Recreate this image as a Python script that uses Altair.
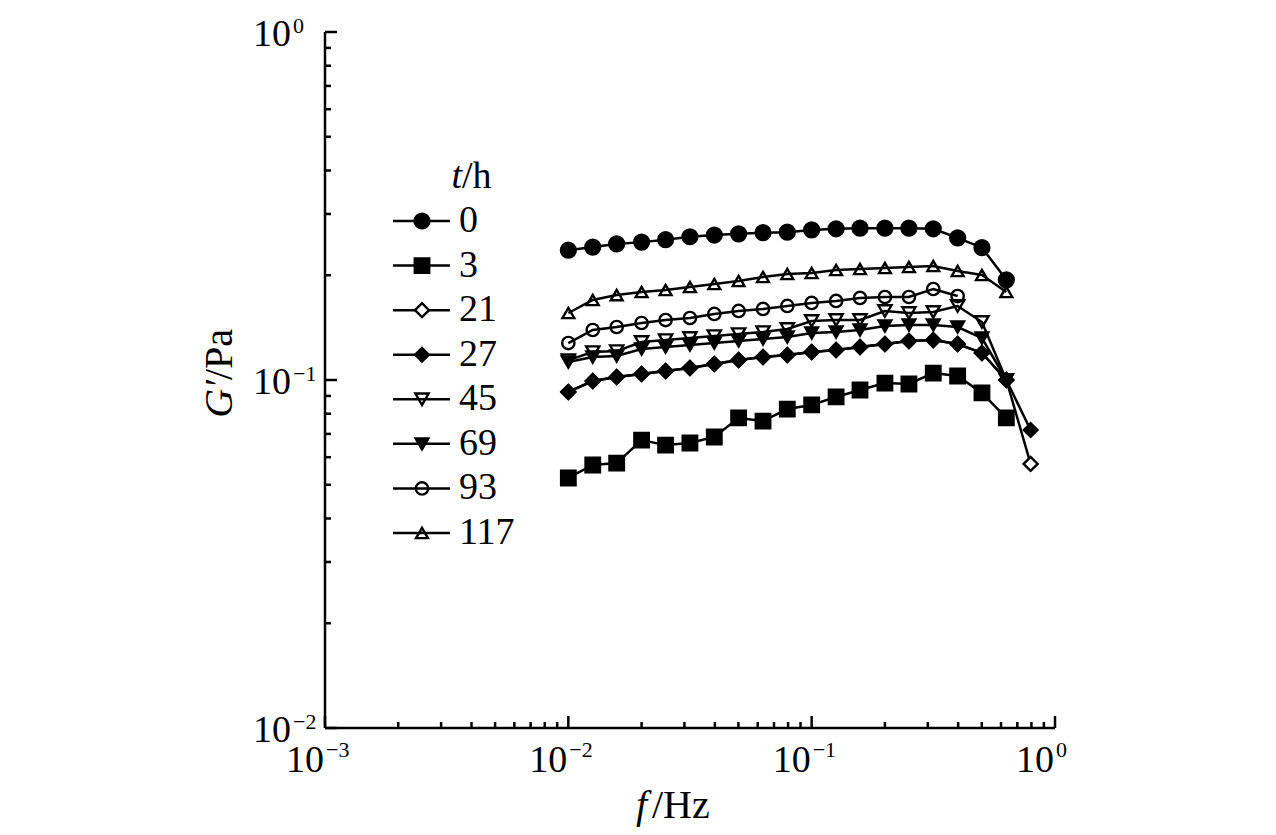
import altair as alt
import pandas as pd

# ---------------- data ----------------
FREQ = [0.01, 0.0126, 0.0158, 0.02, 0.0251, 0.0316, 0.0398, 0.0501, 0.0631, 0.0794,
        0.1, 0.126, 0.158, 0.2, 0.251, 0.316, 0.398, 0.501, 0.631, 0.794]

SERIES = ["0", "3", "21", "27", "45", "69", "93", "117"]

G_0 = [0.236, 0.241, 0.246, 0.249, 0.253, 0.258, 0.261, 0.263, 0.265, 0.266,
       0.270, 0.272, 0.273, 0.273, 0.273, 0.272, 0.256, 0.240, 0.194]
G_3 = [0.0523, 0.0570, 0.0577, 0.0672, 0.0650, 0.0659, 0.0686, 0.0778, 0.0762, 0.0825,
       0.0848, 0.0894, 0.0936, 0.0980, 0.0974, 0.1047, 0.1027, 0.0918, 0.0778]
G_21 = [0.0924, 0.0993, 0.1020, 0.1040, 0.1061, 0.1083, 0.1112, 0.1141, 0.1164, 0.1180,
        0.1203, 0.1219, 0.1244, 0.1269, 0.1295, 0.1302, 0.1269, 0.1196, 0.1000, 0.0574]
G_27 = [0.0924, 0.0993, 0.1020, 0.1040, 0.1061, 0.1083, 0.1112, 0.1141, 0.1164, 0.1180,
        0.1203, 0.1219, 0.1244, 0.1269, 0.1295, 0.1302, 0.1269, 0.1196, 0.1000, 0.0718]
G_45 = [0.1141, 0.1203, 0.1211, 0.1286, 0.1302, 0.1320, 0.1337, 0.1355, 0.1373, 0.1401,
        0.1478, 0.1487, 0.1487, 0.1579, 0.1558, 0.1569, 0.1632, 0.1468, 0.1000]
G_69 = [0.1126, 0.1164, 0.1172, 0.1228, 0.1244, 0.1260, 0.1277, 0.1295, 0.1312, 0.1329,
        0.1365, 0.1373, 0.1392, 0.1429, 0.1439, 0.1439, 0.1420, 0.1320, 0.1000]
G_93 = [0.1277, 0.1392, 0.1420, 0.1458, 0.1487, 0.1507, 0.1548, 0.1579, 0.1600, 0.1632,
        0.1665, 0.1687, 0.1721, 0.1732, 0.1732, 0.1826, 0.1743]
G_117 = [0.1558, 0.1698, 0.1754, 0.1790, 0.1814, 0.1850, 0.1887, 0.1925, 0.1977, 0.2016,
         0.2030, 0.2071, 0.2084, 0.2098, 0.2112, 0.2126, 0.2057, 0.2003, 0.1790]

VALUES = {"0": G_0, "3": G_3, "21": G_21, "27": G_27,
          "45": G_45, "69": G_69, "93": G_93, "117": G_117}

XTICK_MAJOR = [0.001, 0.01, 0.1, 1]
XTICK_MINOR = [0.002, 0.003, 0.004, 0.005, 0.006, 0.007, 0.008, 0.009,
               0.02, 0.03, 0.04, 0.05, 0.06, 0.07, 0.08, 0.09,
               0.2, 0.3, 0.4, 0.5, 0.6, 0.7, 0.8, 0.9]
YTICK_MAJOR = [0.01, 0.1, 1]
YTICK_MINOR = [0.02, 0.03, 0.04, 0.05, 0.06, 0.07, 0.08, 0.09,
               0.2, 0.3, 0.4, 0.5, 0.6, 0.7, 0.8, 0.9]
XLAB_VALUES = [0.001, 0.01, 0.1, 1]
XLAB_EXP = ["\u22123", "\u22122", "\u22121", "0"]
YLAB_VALUES = [0.01, 0.1, 1]
YLAB_EXP = ["\u22122", "\u22121", "0"]

# ---------------- styles ----------------
SHAPES = ["circle", "square", "diamond", "diamond",
          "triangle-down", "triangle-down", "circle", "triangle-up"]
FILLS = ["black", "black", "white", "black",
         "transparent", "black", "transparent", "transparent"]
SIZES = [220, 140, 80, 240, 220, 210, 165, 230]

W, H = 730, 696
FONT = "Liberation Serif"

rows = []
for s in SERIES:
    for f, g in zip(FREQ, VALUES[s]):
        rows.append({"series": s, "f": f, "G": g})
df = pd.DataFrame(rows)

xscale = alt.Scale(type="log", domain=[0.001, 1], nice=False)
yscale = alt.Scale(type="log", domain=[0.01, 1], nice=False)

shape_enc = alt.Shape("series:N", scale=alt.Scale(domain=SERIES, range=SHAPES), legend=None)
fill_enc = alt.Fill("series:N", scale=alt.Scale(domain=SERIES, range=FILLS), legend=None)
size_enc = alt.Size("series:N", scale=alt.Scale(domain=SERIES, range=SIZES), legend=None)

lines = alt.Chart(df).mark_line(color="black", strokeWidth=2.5).encode(
    x=alt.X("f:Q", scale=xscale, axis=None),
    y=alt.Y("G:Q", scale=yscale, axis=None),
    detail="series:N",
)

points = alt.Chart(df).mark_point(filled=True, stroke="black", strokeWidth=2.4,
                                  opacity=1, fillOpacity=1).encode(
    x=alt.X("f:Q", scale=xscale, axis=None),
    y=alt.Y("G:Q", scale=yscale, axis=None),
    shape=shape_enc, fill=fill_enc, size=size_enc,
)

# axis lines (left and bottom only)
x_axis_line = alt.Chart(pd.DataFrame({"a": [0]})).mark_rule(color="black", strokeWidth=2.5).encode(
    x=alt.value(0), x2=alt.value(W), y=alt.value(H))
y_axis_line = alt.Chart(pd.DataFrame({"a": [0]})).mark_rule(color="black", strokeWidth=2.5).encode(
    x=alt.value(0), y=alt.value(0), y2=alt.value(H))

xt_major = alt.Chart(pd.DataFrame({"v": XTICK_MAJOR})).mark_rule(color="black", strokeWidth=2.5).encode(
    x=alt.X("v:Q", scale=xscale, axis=None), y=alt.value(H), y2=alt.value(H - 12))
xt_minor = alt.Chart(pd.DataFrame({"v": XTICK_MINOR})).mark_rule(color="black", strokeWidth=2.5).encode(
    x=alt.X("v:Q", scale=xscale, axis=None), y=alt.value(H), y2=alt.value(H - 6))
yt_major = alt.Chart(pd.DataFrame({"v": YTICK_MAJOR})).mark_rule(color="black", strokeWidth=2.5).encode(
    y=alt.Y("v:Q", scale=yscale, axis=None), x=alt.value(0), x2=alt.value(12))
yt_minor = alt.Chart(pd.DataFrame({"v": YTICK_MINOR})).mark_rule(color="black", strokeWidth=2.5).encode(
    y=alt.Y("v:Q", scale=yscale, axis=None), x=alt.value(0), x2=alt.value(6))

xlab_df = pd.DataFrame({"v": XLAB_VALUES, "base": ["10"] * len(XLAB_VALUES), "exp": XLAB_EXP})
ylab_df = pd.DataFrame({"v": YLAB_VALUES, "base": ["10"] * len(YLAB_VALUES), "exp": YLAB_EXP})

xl_base = alt.Chart(xlab_df).mark_text(font=FONT, fontSize=38, align="right",
                                       baseline="alphabetic", dx=-1, color="black").encode(
    x=alt.X("v:Q", scale=xscale, axis=None), y=alt.value(740), text="base:N")
xl_exp = alt.Chart(xlab_df).mark_text(font=FONT, fontSize=22, align="left",
                                      baseline="alphabetic", dx=1, color="black").encode(
    x=alt.X("v:Q", scale=xscale, axis=None), y=alt.value(725), text="exp:N")
yl_base = alt.Chart(ylab_df).mark_text(font=FONT, fontSize=38, align="right",
                                       baseline="alphabetic", dy=14, color="black").encode(
    y=alt.Y("v:Q", scale=yscale, axis=None), x=alt.value(-34), text="base:N")
yl_exp = alt.Chart(ylab_df).mark_text(font=FONT, fontSize=22, align="left",
                                      baseline="alphabetic", dy=1, color="black").encode(
    y=alt.Y("v:Q", scale=yscale, axis=None), x=alt.value(-32), text="exp:N")


def label(txt, x, y, size=40, style="normal", align="left", angle=0):
    kw = dict(font=FONT, fontSize=size, fontStyle=style, align=align,
              baseline="alphabetic", color="black")
    if angle:
        kw["angle"] = angle
    return alt.Chart(pd.DataFrame({"t": [txt]})).mark_text(**kw).encode(
        text="t:N", x=alt.value(x), y=alt.value(y))


x_title_f = label("f", 322, 786, style="italic", align="right")
x_title_u = label("/Hz", 327, 786)
y_title_g = label("G\u2032", -93, 348, style="italic", align="right", angle=270)
y_title_u = label("/Pa", -93, 348, align="left", angle=270)
leg_title_t = label("t", 137, 156, size=38, style="italic", align="right")
leg_title_u = label("/h", 137, 156, size=38)

main = alt.layer(lines, points, x_axis_line, y_axis_line,
                 xt_major, xt_minor, yt_major, yt_minor,
                 xl_base, xl_exp, yl_base, yl_exp,
                 x_title_f, x_title_u, y_title_g, y_title_u,
                 leg_title_t, leg_title_u)

leg_df = pd.DataFrame({"series": SERIES})
leg_y = alt.Y("series:N", scale=alt.Scale(type="point", domain=SERIES, range=[189, 501], padding=0),
              axis=None)
leg_rule = alt.Chart(leg_df).mark_rule(color="black", strokeWidth=2.5).encode(
    y=leg_y, x=alt.value(68), x2=alt.value(125))
leg_pts = alt.Chart(leg_df).mark_point(filled=True, stroke="black", strokeWidth=2.4,
                                       opacity=1, fillOpacity=1).encode(
    y=leg_y, x=alt.value(97), shape=shape_enc, fill=fill_enc, size=size_enc)
leg_txt = alt.Chart(leg_df).mark_text(font=FONT, fontSize=38, align="left",
                                      baseline="middle", color="black").encode(
    y=leg_y, x=alt.value(134), text="series:N")
legend = alt.layer(leg_rule, leg_pts, leg_txt)

chart = alt.layer(main, legend).resolve_scale(y="independent").properties(
    width=W, height=H,
    autosize=alt.AutoSizeParams(type="none"),
    padding={"left": 317, "top": 24, "right": 213, "bottom": 99},
).configure(
    background="white",
    view=alt.ViewConfig(stroke="transparent", strokeWidth=0),
)

chart.save("out.html", embed_options={"renderer": "svg", "actions": False})
